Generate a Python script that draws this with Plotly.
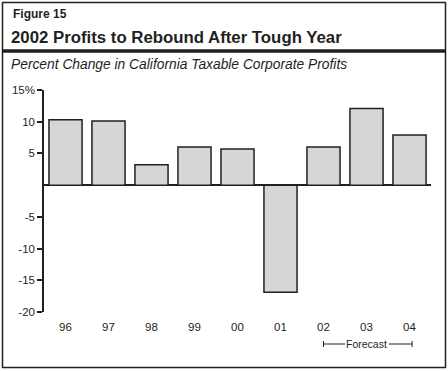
import plotly.graph_objects as go

years = ["96", "97", "98", "99", "00", "01", "02", "03", "04"]
pct_change = [10.3, 10.1, 3.2, 6.0, 5.7, -16.9, 6.0, 12.1, 7.9]
y_tick_vals = [15, 10, 5, -5, -10, -15, -20]
y_tick_text = ["15%", "10", "5", "-5", "-10", "-15", "-20"]

W, H = 448, 371
L, R, T, B = 44, 431, 90, 312
INK = "#231f20"
FONT = "Liberation Sans, Arial, sans-serif"


def px(x):
    return (x - L) / (R - L)


def py(y):
    return (B - y) / (B - T)


fig = go.Figure()
fig.add_trace(go.Bar(
    x=years, y=pct_change, width=0.77,
    marker=dict(color="#d6d6d6", line=dict(color=INK, width=1.5)),
    hoverinfo="x+y",
))

shapes = [
    # outer frame
    dict(type="rect", xref="paper", yref="paper", x0=px(2.5), x1=px(445.5), y0=py(2.5), y1=py(367.5),
         line=dict(color=INK, width=1.5), fillcolor="rgba(0,0,0,0)", layer="below"),
    # thick rule under title
    dict(type="line", xref="paper", yref="paper", x0=px(2.5), x1=px(445.5), y0=py(51), y1=py(51),
         line=dict(color=INK, width=3.5)),
    # forecast bracket
    dict(type="line", xref="x", yref="paper", x0=6, x1=6, y0=py(341), y1=py(347), line=dict(color=INK, width=1)),
    dict(type="line", xref="x", yref="paper", x0=8.06, x1=8.06, y0=py(341), y1=py(347), line=dict(color=INK, width=1)),
    dict(type="line", xref="x", yref="paper", x0=6, x1=6.5, y0=py(344), y1=py(344), line=dict(color=INK, width=1)),
    dict(type="line", xref="x", yref="paper", x0=7.52, x1=8.06, y0=py(344), y1=py(344), line=dict(color=INK, width=1)),
]

annotations = [
    dict(text="<b>Figure 15</b>", xref="paper", yref="paper", x=px(11), y=py(14), xanchor="left", yanchor="middle",
         showarrow=False, font=dict(family=FONT, size=12, color=INK)),
    dict(text="<b>2002 Profits to Rebound After Tough Year</b>", xref="paper", yref="paper", x=px(9), y=py(37),
         xanchor="left", yanchor="middle", showarrow=False, font=dict(family=FONT, size=16.8, color=INK)),
    dict(text="<i>Percent Change in California Taxable Corporate Profits</i>", xref="paper", yref="paper",
         x=px(9), y=py(64), xanchor="left", yanchor="middle", showarrow=False,
         font=dict(family=FONT, size=13.8, color=INK)),
    dict(text="Forecast", xref="x", yref="paper", x=7.01, y=py(344), xanchor="center", yanchor="middle",
         showarrow=False, font=dict(family=FONT, size=10.5, color=INK)),
]

fig.update_layout(
    width=W, height=H,
    margin=dict(l=L, r=W - R, t=T, b=H - B, pad=0),
    paper_bgcolor="white", plot_bgcolor="white",
    showlegend=False, bargap=0.23,
    font=dict(family=FONT, size=11, color=INK),
    shapes=shapes, annotations=annotations,
    xaxis=dict(type="category", showline=False, showgrid=False, zeroline=False,
               ticks="outside", ticklen=4, tickcolor="rgba(0,0,0,0)",
               tickfont=dict(family=FONT, size=11.5, color=INK), fixedrange=True),
    yaxis=dict(range=[-20, 15], showgrid=False, showline=True, linecolor=INK, linewidth=1.5,
               zeroline=True, zerolinecolor=INK, zerolinewidth=1.5,
               tickmode="array", tickvals=y_tick_vals, ticktext=y_tick_text,
               ticks="outside", ticklen=5, tickwidth=1.5, tickcolor=INK,
               tickfont=dict(family=FONT, size=11.5, color=INK), fixedrange=True),
)

fig.write_html("out.html", config={"displayModeBar": False},
               post_script="document.body.style.margin='0';document.body.style.overflow='hidden';")
